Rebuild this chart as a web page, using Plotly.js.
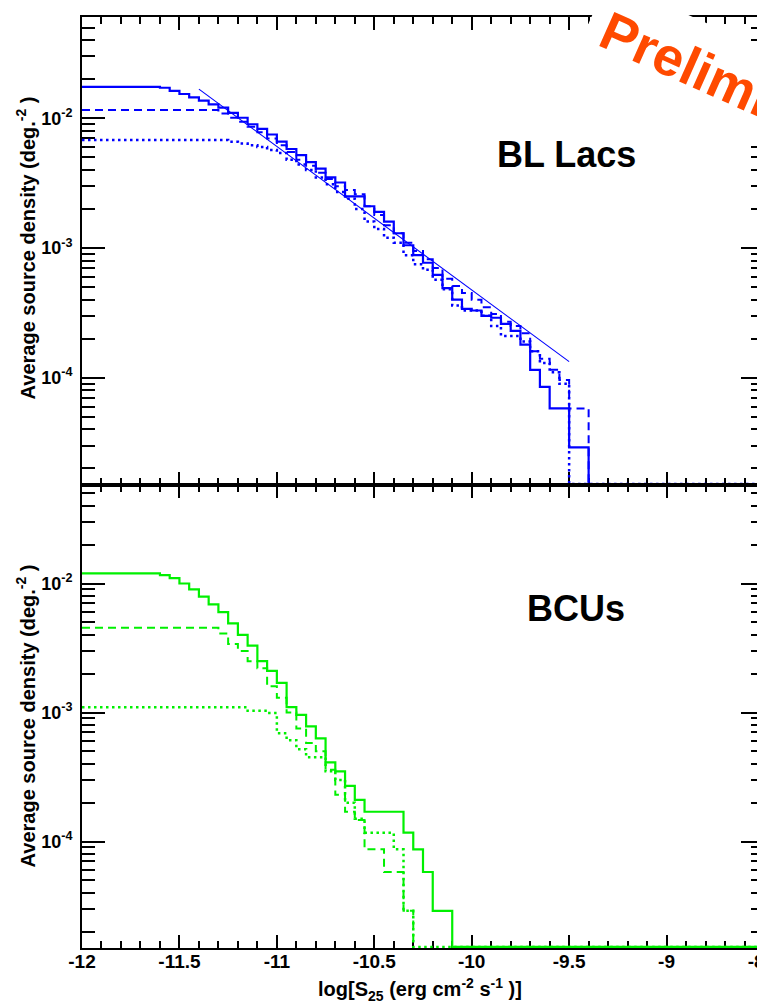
<!DOCTYPE html>
<html>
<head>
<meta charset="utf-8">
<script src="https://cdn.plot.ly/plotly-3.0.1.min.js"></script>
<style>
  html, body { margin: 0; padding: 0; background: #fff; overflow: hidden; }
  #chart { width: 800px; height: 1004px; }
</style>
</head>
<body>
<div id="chart"></div>
<script>
// Cumulative source-count histograms, log N(>S) vs log S25.
// Each *LogS array holds the lower edge of a bin where the level changes;
// the matching *Density array holds the level (deg^-2). 0 = empty bin.

// ---- BL Lacs (top panel, blue) ----
const blSolidLogS = [-12.00, -11.60, -11.55, -11.50, -11.45, -11.40, -11.35, -11.30, -11.25, -11.20,
  -11.15, -11.10, -11.05, -11.00, -10.95, -10.90, -10.85, -10.80, -10.75, -10.70,
  -10.65, -10.55, -10.50, -10.45, -10.40, -10.35, -10.30, -10.25, -10.20, -10.15,
  -10.10, -10.05, -10.00, -9.95, -9.90, -9.85, -9.80, -9.75, -9.70, -9.65,
  -9.60, -9.50, -9.40];
const blSolidDensity = [0.0175, 0.0172, 0.0163, 0.0154, 0.0145, 0.0137, 0.0128, 0.0121, 0.0110, 0.0101,
  0.0090, 0.0083, 0.0075, 0.0066, 0.0058, 0.0052, 0.0046, 0.0041, 0.0035, 0.0032,
  0.0025, 0.0021, 0.0019, 0.0016, 0.0013, 0.00105, 0.00088, 0.00077, 0.00062, 0.00049,
  0.00040, 0.00034, 0.00033, 0.00030, 0.00029, 0.00026, 0.00023, 0.00018, 0.000115, 0.000085,
  0.000058, 0.000029, 0];

const blDashLogS = [-12.00, -11.30, -11.25, -11.20, -11.15, -11.10, -11.05, -11.00, -10.95, -10.90,
  -10.85, -10.80, -10.75, -10.70, -10.65, -10.60, -10.55, -10.50, -10.45, -10.40,
  -10.35, -10.30, -10.25, -10.20, -10.15, -10.10, -10.05, -10.00, -9.95, -9.90,
  -9.85, -9.80, -9.75, -9.70, -9.65, -9.60, -9.55, -9.50, -9.40];
const blDashDensity = [0.0116, 0.0109, 0.0101, 0.0094, 0.0086, 0.0078, 0.0070, 0.0062, 0.0055, 0.0048,
  0.0043, 0.0038, 0.0034, 0.0030, 0.0028, 0.0026, 0.0021, 0.0018, 0.0015, 0.0013,
  0.0011, 0.00095, 0.00082, 0.00070, 0.00058, 0.00051, 0.00045, 0.00040, 0.00035, 0.00031,
  0.00027, 0.00025, 0.00022, 0.00016, 0.00014, 0.000115, 0.000096, 0.000058, 0];

const blDotLogS = [-12.00, -11.25, -11.20, -11.15, -11.10, -11.05, -11.00, -10.95, -10.90, -10.85,
  -10.80, -10.75, -10.70, -10.65, -10.60, -10.55, -10.50, -10.45, -10.40, -10.35,
  -10.30, -10.25, -10.20, -10.15, -10.10, -10.05, -9.95, -9.90, -9.85, -9.75,
  -9.70, -9.65, -9.60, -9.55, -9.50, -8.50];
const blDotDensity = [0.0068, 0.0066, 0.0064, 0.0062, 0.0060, 0.0057, 0.0054, 0.0048, 0.0044, 0.0040,
  0.0035, 0.0031, 0.0027, 0.0024, 0.0020, 0.0016, 0.0014, 0.0012, 0.0011, 0.00088,
  0.00075, 0.00068, 0.00057, 0.00048, 0.00036, 0.00033, 0.00030, 0.00025, 0.00021, 0.00019,
  0.00016, 0.00013, 0.00011, 0.00009, 0, 0];

// power-law fit over the resolved range
const blFitLogS = [-11.40, -9.50];
const blFitDensity = [0.0168, 0.000133];

// ---- BCUs (bottom panel, green) ----
const bcuSolidLogS = [-12.00, -11.60, -11.55, -11.50, -11.45, -11.40, -11.35, -11.30, -11.25, -11.20,
  -11.15, -11.10, -11.05, -11.00, -10.95, -10.90, -10.85, -10.80, -10.75, -10.70,
  -10.65, -10.60, -10.55, -10.35, -10.30, -10.25, -10.20, -10.10, -8.50];
const bcuSolidDensity = [0.0120, 0.0116, 0.0110, 0.0100, 0.0090, 0.0079, 0.0069, 0.0060, 0.0049, 0.0040,
  0.0033, 0.0025, 0.0021, 0.0017, 0.0011, 0.00096, 0.00078, 0.00063, 0.00041, 0.00035,
  0.00027, 0.00021, 0.00017, 0.000117, 0.000087, 0.000058, 0.000029, 0, 0];

const bcuDashLogS = [-12.00, -11.30, -11.25, -11.20, -11.15, -11.10, -11.05, -11.00, -10.95, -10.90,
  -10.85, -10.80, -10.75, -10.70, -10.65, -10.60, -10.55, -10.45, -10.35, -10.30];
const bcuDashDensity = [0.00454, 0.0041, 0.0034, 0.0030, 0.0025, 0.0022, 0.0016, 0.0013, 0.0010, 0.00075,
  0.00058, 0.00050, 0.00036, 0.00023, 0.00017, 0.000147, 0.000087, 0.000058, 0.000029, 0];

const bcuDotLogS = [-12.00, -11.15, -11.05, -11.00, -10.95, -10.90, -10.85, -10.75, -10.70, -10.65,
  -10.60, -10.55, -10.40, -10.35, -10.30, -8.50];
const bcuDotDensity = [0.0011, 0.00103, 0.00099, 0.00069, 0.00061, 0.00052, 0.00045, 0.00035, 0.00030, 0.00020,
  0.00015, 0.000117, 0.000087, 0.000029, 0, 0];

// axis tick labels
const xTickVals = [-12, -11.5, -11, -10.5, -10, -9.5, -9, -8.5];
const xTickText = ['-12', '-11.5', '-11', '-10.5', '-10', '-9.5', '-9', '-8.5'];
const yTickVals = [1e-4, 1e-3, 1e-2];
const yTickText = ['10<sup>-4</sup>', '10<sup>-3</sup>', '10<sup>-2</sup>'];

// ---------------------------------------------------------------
const FONT = 'Liberation Sans, Arial, Helvetica, sans-serif';
const BLUE = '#0000ff';
const GREEN = '#00f000';
const TOP_RANGE = [-4.827, -1.219];
const BOT_RANGE = [-4.8256, -1.2364];
const SPLIT = 0.4973;

const bold = s => '<b>' + s + '</b>';

// empty bins sit on the lower frame of their pad
function levels(vals, range) {
  const floor = Math.pow(10, range[0] + 0.008);
  return vals.map(v => (v > 0 ? v : floor));
}

function hist(x, y, range, color, dash, width, xa, ya) {
  return {
    type: 'scatter', mode: 'lines', x: x, y: levels(y, range),
    line: { color: color, width: width, dash: dash, shape: 'hv' },
    xaxis: xa, yaxis: ya, hoverinfo: 'skip', showlegend: false
  };
}

const DASH = '8px,5px';
const DOT = '2.5px,3.5px';

const traces = [
  hist(blSolidLogS, blSolidDensity, TOP_RANGE, BLUE, 'solid', 2.2, 'x', 'y'),
  hist(blDashLogS, blDashDensity, TOP_RANGE, BLUE, DASH, 2, 'x', 'y'),
  hist(blDotLogS, blDotDensity, TOP_RANGE, BLUE, DOT, 2.5, 'x', 'y'),
  {
    type: 'scatter', mode: 'lines', x: blFitLogS, y: blFitDensity,
    line: { color: BLUE, width: 1.1 }, xaxis: 'x', yaxis: 'y',
    hoverinfo: 'skip', showlegend: false
  },
  hist(bcuSolidLogS, bcuSolidDensity, BOT_RANGE, GREEN, 'solid', 2.2, 'x2', 'y2'),
  hist(bcuDashLogS, bcuDashDensity, BOT_RANGE, GREEN, DASH, 2, 'x2', 'y2'),
  hist(bcuDotLogS, bcuDotDensity, BOT_RANGE, GREEN, DOT, 2.5, 'x2', 'y2')
];

// minor ticks on the log axes: 2..9 in every decade
const yMinor = [];
for (let e = -6; e <= 0; e++) {
  for (let d = 2; d <= 9; d++) yMinor.push(d * Math.pow(10, e));
}

function xAxis(anchor, labels) {
  return {
    anchor: anchor, range: [-12, -8.5], showgrid: false, zeroline: false,
    showline: true, linecolor: '#000', linewidth: 2, mirror: 'allticks',
    ticks: 'inside', ticklen: 13, tickwidth: 2, tickcolor: '#000',
    tickmode: 'array', tickvals: xTickVals, ticktext: xTickText.map(bold),
    showticklabels: labels, ticklabelstandoff: -5,
    tickfont: { family: FONT, size: 19, color: '#000' },
    minor: { dtick: 0.1, tick0: -12, ticks: 'inside', ticklen: 7, tickwidth: 2, tickcolor: '#000', showgrid: false },
    layer: 'below traces', fixedrange: true
  };
}

function yAxis(range, domain, anchor) {
  return {
    type: 'log', range: range, domain: domain, anchor: anchor,
    showgrid: false, zeroline: false,
    showline: true, linecolor: '#000', linewidth: 2, mirror: 'allticks',
    ticks: 'inside', ticklen: 23, tickwidth: 2, tickcolor: '#000',
    tickmode: 'array', tickvals: yTickVals, ticktext: yTickText.map(bold),
    ticklabelstandoff: 4,
    tickfont: { family: FONT, size: 18, color: '#000' },
    minor: { tickmode: 'array', tickvals: yMinor, ticks: 'inside', ticklen: 13, tickwidth: 2, tickcolor: '#000', showgrid: false },
    layer: 'below traces', fixedrange: true
  };
}

const yTitle = bold('Average source density (deg.<sup>-2</sup> )');

const layout = {
  width: 800, height: 1004,
  margin: { l: 82, r: 36, t: 17, b: 56, pad: 0 },
  paper_bgcolor: '#fff', plot_bgcolor: '#fff',
  showlegend: false,
  xaxis: xAxis('y', false),
  xaxis2: xAxis('y2', true),
  yaxis: yAxis(TOP_RANGE, [SPLIT, 1], 'x'),
  yaxis2: yAxis(BOT_RANGE, [0, SPLIT], 'x2'),
  annotations: [
    {
      xref: 'paper', yref: 'paper', x: -0.0815, y: 0.7519, textangle: -90,
      text: yTitle, showarrow: false, xanchor: 'center', yanchor: 'middle',
      font: { family: FONT, size: 20, color: '#000' }
    },
    {
      xref: 'paper', yref: 'paper', x: -0.0815, y: 0.2492, textangle: -90,
      text: yTitle, showarrow: false, xanchor: 'center', yanchor: 'middle',
      font: { family: FONT, size: 20, color: '#000' }
    },
    {
      xref: 'paper', yref: 'paper', x: 0.4956, y: -0.045,
      text: bold('log[S<sub>25</sub> (erg cm<sup>-2</sup> s<sup>-1</sup> )]'),
      showarrow: false, xanchor: 'center', yanchor: 'middle',
      font: { family: FONT, size: 20, color: '#000' }
    },
    {
      xref: 'paper', yref: 'paper', x: 0.7097, y: 0.8518, text: bold('BL Lacs'),
      showarrow: false, xanchor: 'center', yanchor: 'middle',
      font: { family: FONT, size: 36, color: '#000' }
    },
    {
      xref: 'paper', yref: 'paper', x: 0.7243, y: 0.3647, text: bold('BCUs'),
      showarrow: false, xanchor: 'center', yanchor: 'middle',
      font: { family: FONT, size: 36, color: '#000' }
    },
    {
      xref: 'paper', yref: 'paper', x: 0.962, y: 0.9245, text: bold('Preliminary'),
      textangle: 24, showarrow: false, xanchor: 'center', yanchor: 'middle',
      bgcolor: '#fff', borderpad: 15,
      font: { family: FONT, size: 54, color: '#ff4a00' }
    }
  ]
};

Plotly.newPlot('chart', traces, layout, { staticPlot: true, responsive: false });
</script>
</body>
</html>
